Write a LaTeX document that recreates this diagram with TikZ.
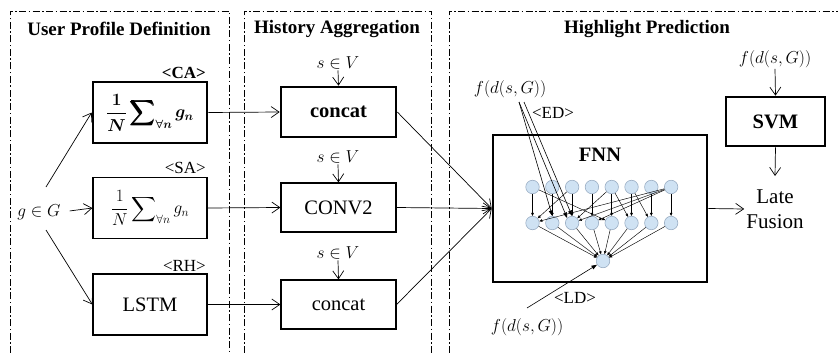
\documentclass[tikz,border=0pt]{standalone}
\usepackage{amsmath}
\usepackage{bm}
\usepackage{fontspec}
\setmainfont{Liberation Serif}
\usetikzlibrary{arrows.meta,calc}
\definecolor{nnfill}{HTML}{CFE2F3}
\definecolor{nnedge}{HTML}{9AAEC4}
\begin{document}
\begin{tikzpicture}[x=1pt,y=-1pt,
  panel/.style={line width=0.8pt, dash pattern=on 7pt off 2.5pt on 1.5pt off 2.5pt},
  title/.style={font=\fontsize{19}{22}\selectfont\bfseries},
  box/.style={draw, line width=1.2pt, minimum width=114pt, minimum height=61pt, inner sep=0pt, font=\fontsize{20.5}{24}\selectfont},
  thickbox/.style={box, line width=2.6pt},
  fracfont/.style={font=\fontsize{17.5}{21}\selectfont},
  lab/.style={font=\fontsize{17}{20}\selectfont, inner sep=1pt},
  mlab/.style={font=\fontsize{17}{20}\selectfont, inner sep=1pt},
  arr/.style={-{Straight Barb[length=8pt,width=11pt]}, line width=0.7pt},
  nn/.style={circle, draw=nnedge, fill=nnfill, minimum size=13.5pt, inner sep=0pt, line width=0.6pt},
  nnarr/.style={-{Triangle[length=3pt,width=2.6pt]}, line width=0.45pt},
  edarr/.style={-{Triangle[length=5.5pt,width=4pt]}, line width=0.6pt}]
\useasboundingbox (0,0) rectangle (838,353);
% panels
\draw[panel] (10,353) -- (10,11) -- (229,11) -- (229,353);
\draw[panel] (244,353) -- (244,11) -- (431,11) -- (431,353);
\draw[panel] (449,353) -- (449,11) -- (838,11);
% titles
\node[title] (t1) at (119,29) {User Profile Definition};
\node[title] (t2) at (337,29) {History Aggregation};
\node[title] (t3) at (647,29) {Highlight Prediction};
% column 1
\node[thickbox, fracfont] (ca) at (150,112.5) {$\bm{\displaystyle\frac{1}{N}\sum\nolimits_{\forall n} g_n}$};
\node[box, fracfont] (sa) at (150,208) {$\displaystyle\frac{1}{N}\sum\nolimits_{\forall n} g_n$};
\node[box] (lstm) at (150,304.5) {LSTM};
\node[lab, font=\fontsize{17}{20}\selectfont\bfseries, anchor=south east] (caL) at (207,80) {<CA>};
\node[lab, anchor=south east] (saL) at (207,175) {<SA>};
\node[lab, anchor=south east] (rhL) at (207,273) {<RH>};
\node[mlab] (g) at (39,212) {$g\in G$};
\coordinate (ga) at (46,187);
\coordinate (gb) at (46,230);
\draw[arr] (ga) -- (ca.west);
\draw[arr, shorten <=8pt] (g.east) -- (sa.west);
\draw[arr] (gb) -- (lstm.west);
% column 2
\node[thickbox, font=\fontsize{20.5}{24}\selectfont\bfseries, minimum width=115pt, minimum height=50pt] (cat1) at (338.5,112) {concat};
\node[box, minimum width=115pt, minimum height=49pt] (conv) at (338.5,207.5) {CONV2};
\node[box, minimum width=115pt, minimum height=49pt] (cat2) at (338.5,304.5) {concat};
\node[mlab] (s1) at (338,63) {$s\in V$};
\node[mlab] (s2) at (338,157) {$s\in V$};
\node[mlab] (s3) at (338,253) {$s\in V$};
\draw[arr] (s1.south) -- (cat1.north);
\draw[arr] (s2.south) -- (conv.north);
\draw[arr] (s3.south) -- (cat2.north);
\draw[arr] (ca.east) -- (cat1.west);
\draw[arr] (sa.east) -- (conv.west);
\draw[arr] (lstm.east) -- (cat2.west);
% column 3
\node[draw, line width=2.6pt, minimum width=214pt, minimum height=147pt] (fnn) at (600,208.5) {};
\node[title, font=\fontsize{20.5}{24}\selectfont\bfseries] (fnnT) at (600,155) {FNN};
\draw[arr] (cat1.east) -- (fnn.west);
\draw[arr] (conv.east) -- (fnn.west);
\draw[arr] (cat2.east) -- (fnn.west);
\node[thickbox, font=\fontsize{20.5}{24}\selectfont\bfseries, minimum width=99pt, minimum height=49pt] (svm) at (775.5,121.5) {SVM};
\node[mlab] (fs) at (775,59) {$f(d(s,G))$};
\draw[arr] (fs.south) -- (svm.north);
\node[align=center, font=\fontsize{21}{25}\selectfont, inner sep=2pt] (lf) at (775,209) {Late\\Fusion};
\coordinate (lfN) at (775,176);
\draw[arr] (svm.south) -- (lfN);
\draw[arr] (fnn.east) -- (lf.west);
% neural net
\foreach \i in {1,...,8} {
  \node[nn] (n\i) at ({532.5+19.8*(\i-1)},187) {};
  \node[nn] (m\i) at ({532.5+19.8*(\i-1)},223) {};
}
\node[nn] (out) at (603,261) {};
\foreach \i in {1,...,8} {
  \draw[nnarr] (n\i) -- (m\i);
  \draw[nnarr] (m\i) -- (out);
}
\foreach \a/\b in {1/5,3/1,5/3,5/6,6/7,8/1,8/3,8/4} {
  \draw[nnarr] (n\a) -- (m\b);
}
\node[lab] (edL) at (553,113) {<ED>};
\node[mlab] (fed) at (510,89) {$f(d(s,G))$};
\coordinate (edA) at (519,102);
\coordinate (edB) at (524,102);
\draw[edarr] (edA) -- (m2.north);
\draw[edarr] (edA) -- (m3.north west);
\draw[edarr] (edB) -- (m3.north);
\node[lab] (ldL) at (575,298) {<LD>};
\node[mlab] (fld) at (527,327) {$f(d(s,G))$};
\coordinate (ldA) at (527,308);
\draw[edarr] (ldA) -- (out);
\end{tikzpicture}
\end{document}
